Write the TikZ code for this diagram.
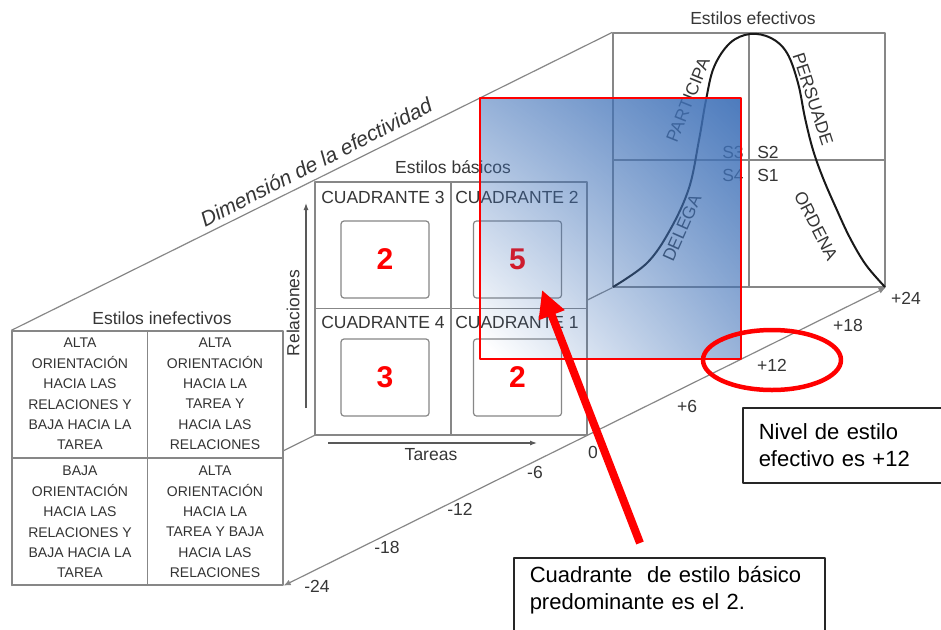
\documentclass[tikz,border=0pt]{standalone}
\usepackage{fontspec}
\setmainfont{Liberation Sans}
\usetikzlibrary{arrows.meta,backgrounds,shapes.geometric,shadings,fadings}

\definecolor{linegray}{HTML}{878787}
\definecolor{txtgray}{HTML}{363636}
\definecolor{hlblue}{HTML}{3F71B8}

\tikzfading[name=hlfade, lower left=transparent!100, upper right=transparent!4,
  upper left=transparent!42, lower right=transparent!42]

\tikzset{
  panel/.style={draw=linegray, line width=1.3pt, fill=white, inner sep=0pt},
  grid/.style={draw=linegray, line width=1.3pt},
  depth/.style={draw=linegray, line width=1.2pt},
  lbl/.style={text=txtgray, inner sep=0pt, font=\fontsize{17.5}{20}\selectfont},
  cell/.style={text=black!80, inner sep=0pt, align=center,
    font=\fontsize{14}{20.4}\selectfont},
  countbox/.style={draw=linegray, line width=1.2pt, rounded corners=3pt,
    minimum width=88pt, minimum height=77pt, text=red,
    font=\fontsize{30}{30}\selectfont\bfseries},
  hlbox/.style={minimum width=261pt, minimum height=261pt, inner sep=0pt},
  callout/.style={draw=black!85, line width=1.5pt, fill=white, align=left,
    inner xsep=16pt, font=\fontsize{22}{27}\selectfont}
}

\begin{document}
\begin{tikzpicture}[x=1pt, y=-1pt, line join=round]
  \useasboundingbox (0,0) rectangle (941,629);

  % the three planes
  \node[panel, minimum width=271pt, minimum height=254pt] (inef) at (147.5,458) {};
  \node[panel, minimum width=272pt, minimum height=253pt] (basic) at (451,308.5) {};
  \node[panel, minimum width=272pt, minimum height=254pt] (efe) at (749,160) {};
  \begin{scope}[on background layer]
    \draw[depth] (inef.north west) -- (efe.north west);
    \draw[depth] (inef.south west) -- (efe.south west);
  \end{scope}
  \draw[depth, {Latex[length=7pt,width=6pt]}-{Latex[length=7pt,width=6pt]}] (inef.south east) -- (efe.south east);
  \draw[grid] (inef.north) -- (inef.south) (inef.west) -- (inef.east);
  \draw[grid] (basic.north) -- (basic.south) (basic.west) -- (basic.east);
  \draw[grid] (efe.north) -- (efe.south) (efe.west) -- (efe.east);

  \node[lbl] (tinef) at (162,318) {Estilos inefectivos};
  \node[lbl] (tbasic) at (453,167) {Estilos básicos};
  \node[lbl] (tefe) at (753,18) {Estilos efectivos};
  \node[lbl, rotate=27, font=\fontsize{21}{24}\selectfont\itshape] (dim) at (316,162) {Dimensión de la efectividad};

  % estilos inefectivos
  \node[cell] (c3) at (80,394) {ALTA\\ORIENTACIÓN\\HACIA LAS\\RELACIONES Y\\BAJA HACIA LA\\TAREA};
  \node[cell] (c2) at (215,394) {ALTA\\ORIENTACIÓN\\HACIA LA\\TAREA Y\\HACIA LAS\\RELACIONES};
  \node[cell] (c4) at (80,522) {BAJA\\ORIENTACIÓN\\HACIA LAS\\RELACIONES Y\\BAJA HACIA LA\\TAREA};
  \node[cell] (c1) at (215,522) {ALTA\\ORIENTACIÓN\\HACIA LA\\TAREA Y BAJA\\HACIA LAS\\RELACIONES};

  % estilos basicos
  \node[lbl] (q3) at (383,197) {CUADRANTE 3};
  \node[lbl] (q2) at (517,197) {CUADRANTE 2};
  \node[lbl] (q4) at (383,322) {CUADRANTE 4};
  \node[lbl] (q1) at (517,322) {CUADRANTE 1};
  \node[countbox] (n3) at (385,259.5) {2};
  \node[countbox] (n2) at (517.5,259.5) {5};
  \node[countbox] (n4) at (385,377.5) {3};
  \node[countbox] (n1) at (517.5,377.5) {2};

  \coordinate (rel0) at (306,408);
  \coordinate (rel1) at (306,203);
  \coordinate (tar0) at (328,443);
  \coordinate (tar1) at (537,443);
  \draw[grid, line width=1.2pt, draw=black!65, -{Latex[length=7pt,width=5pt]}] (rel0) -- (rel1);
  \draw[grid, line width=1.2pt, draw=black!65, -{Latex[length=7pt,width=5pt]}] (tar0) -- (tar1);
  \node[lbl, rotate=90] (rel) at (293,313) {Relaciones};
  \node[lbl] (tar) at (431,455) {Tareas};

  % estilos efectivos
  \draw[line width=2pt, black!90] plot[smooth, tension=0.6] coordinates {(613,287) (647,263) (670,230) (689,188) (699,140) (706,100) (714,67) (730,43) (750,34) (771,38) (787,53) (798,83) (805,118) (813,150) (823,178) (836,208) (850,238) (866,265) (885,287)};
  \node[lbl, rotate=68] (part) at (688,100) {PARTICIPA};
  \node[lbl, rotate=66] (deleg) at (682,228) {DELEGA};
  \node[lbl, rotate=-72] (pers) at (813,99) {PERSUADE};
  \node[lbl, rotate=-63] (orde) at (816,226) {ORDENA};
  \node[lbl] (s3) at (733,152) {S3};
  \node[lbl] (s2) at (768,152) {S2};
  \node[lbl] (s4) at (733,175) {S4};
  \node[lbl] (s1) at (768,175) {S1};

  \foreach \val/\px/\py [count=\i] in {-24/317/586, -18/387/547, -12/460/509, -6/535/472, 0/593/452, +6/687/406, +12/772/365, +18/848/325, +24/906/298}
    \node[lbl] (tick\i) at (\px,\py) {\val};

  % resaltado
  \begin{scope}
    \node[hlbox, fill=hlblue, path fading=hlfade] (hl) at (610.5,228.5) {};
  \end{scope}
  \node[hlbox, draw=red, line width=1.3pt] (hlframe) at (hl.center) {};
  \node[draw=red, ellipse, line width=4.5pt, minimum width=138pt, minimum height=60pt] (ring) at (772,360) {};

  \coordinate (tail) at (640,543);
  \coordinate (tip) at (542,290);
  \draw[red, line width=8pt, -{Triangle[length=27pt,width=26pt]}] (tail) -- (tip);

  \node[callout, anchor=north west, text width=180pt, minimum height=75pt] (nivel) at (742,407) {Nivel de estilo\\efectivo es +12};
  \node[callout, anchor=north west, text width=279pt, inner ysep=9pt, text depth=45pt] (cuad) at (513,557) {Cuadrante \ de estilo básico\\predominante es el 2.};
\end{tikzpicture}
\end{document}
